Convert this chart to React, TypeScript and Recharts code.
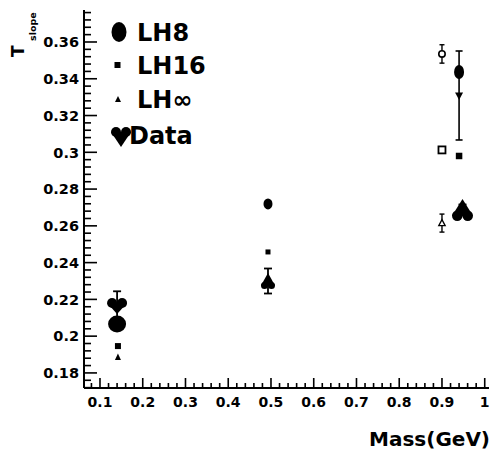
import React from 'react';
import { ScatterChart, Scatter, XAxis, YAxis, ErrorBar, Legend } from 'recharts';

const FONT = '"DejaVu Sans", sans-serif';

// ---- axis ticks ----
const xMajorTicks = [0.1, 0.2, 0.3, 0.4, 0.5, 0.6, 0.7, 0.8, 0.9, 1];
const yMajorTicks = [0.18, 0.2, 0.22, 0.24, 0.26, 0.28, 0.3, 0.32, 0.34, 0.36];
const X_DOMAIN: [number, number] = [0.0626, 1.01];
const Y_DOMAIN: [number, number] = [0.1718, 0.3774];

// ---- series values ----
const lh8Mass = [0.14, 0.493, 0.94];
const lh8Slope = [0.2066, 0.2719, 0.3437];
const lh8ErrLow = [0, 0, 0.037];
const lh8ErrHigh = [0, 0, 0.0114];

const lh16Mass = [0.142, 0.493, 0.94];
const lh16Slope = [0.1946, 0.2458, 0.298];

const lhInfMass = [0.142];
const lhInfSlope = [0.1887];

const dataMass = [0.14, 0.493, 0.948];
const dataSlope = [0.2164, 0.23, 0.2686];
const dataErr = [0.008, 0.0068, 0.003];

// extra (unlabelled) points near the proton mass
const downTriMass = [0.94];
const downTriSlope = [0.3306];
const openCircleMass = [0.9];
const openCircleSlope = [0.3535];
const openCircleErr = [0.005];
const openSquareMass = [0.9];
const openSquareSlope = [0.3013];
const openTriMass = [0.9];
const openTriSlope = [0.2615];
const openTriErr = [0.0049];

const legendNames = ['LH8', 'LH16', 'LH\u221e', 'Data'];

// ---- rows ----
const lh8Rows = lh8Mass.map((m, i) => ({ mass: m, slope: lh8Slope[i], err: [lh8ErrLow[i], lh8ErrHigh[i]] }));
const lh16Rows = lh16Mass.map((m, i) => ({ mass: m, slope: lh16Slope[i] }));
const lhInfRows = lhInfMass.map((m, i) => ({ mass: m, slope: lhInfSlope[i] }));
const dataRows = dataMass.map((m, i) => ({ mass: m, slope: dataSlope[i], err: dataErr[i] }));
const downTriRows = downTriMass.map((m, i) => ({ mass: m, slope: downTriSlope[i] }));
const openCircleRows = openCircleMass.map((m, i) => ({ mass: m, slope: openCircleSlope[i], err: openCircleErr[i] }));
const openSquareRows = openSquareMass.map((m, i) => ({ mass: m, slope: openSquareSlope[i] }));
const openTriRows = openTriMass.map((m, i) => ({ mass: m, slope: openTriSlope[i], err: openTriErr[i] }));

function allTicks(majors: number[], sub: number, lo: number, hi: number) {
  const step = (majors[1] - majors[0]) / sub;
  const out: number[] = [];
  const s = Math.ceil((lo - 1e-9) / step);
  const e = Math.floor((hi + 1e-9) / step);
  for (let k = s; k <= e; k++) out.push(Math.round(k * step * 1e6) / 1e6);
  return out;
}
const xTicks = allTicks(xMajorTicks, 5, X_DOMAIN[0], X_DOMAIN[1]);
const yTicks = allTicks(yMajorTicks, 5, Y_DOMAIN[0], Y_DOMAIN[1]);
const isMajor = (v: number, majors: number[]) => majors.some((m) => Math.abs(m - v) < 1e-6);

// tick-mark anchor points on the left and bottom frame edges
const yTickRows = yTicks.map((v) => ({ mass: X_DOMAIN[0], slope: v }));
const xTickRows = xTicks.map((v) => ({ mass: v, slope: Y_DOMAIN[0] }));

const Y_MINOR = 7;
const Y_MAJOR = 13;
const X_MINOR = 5;
const X_MAJOR = 10;

const yTickMark = (p: any) => {
  const len = isMajor(p.payload?.slope, yMajorTicks) ? Y_MAJOR : Y_MINOR;
  return <rect x={p.cx} y={p.cy - 0.8} width={len} height={1.6} fill="#000" />;
};
const xTickMark = (p: any) => {
  const len = isMajor(p.payload?.mass, xMajorTicks) ? X_MAJOR : X_MINOR;
  return <rect x={p.cx - 0.8} y={p.cy - len} width={1.6} height={len} fill="#000" />;
};

const YTick = (props: any) => (
  <text x={Number(props.x) - 5} y={Number(props.y)} dy="0.36em" textAnchor="end" fontFamily={FONT} fontWeight="bold" fontSize={14.5} fill="#000">
    {String(props.payload.value)}
  </text>
);

const XTick = (props: any) => (
  <text x={Number(props.x)} y={Number(props.y) + 19} textAnchor="middle" fontFamily={FONT} fontWeight="bold" fontSize={14} fill="#000">
    {String(props.payload.value)}
  </text>
);

// ---- marker shapes ----
const Heart = ({ cx, cy, w, h, up }: any) => {
  const r = w / 4;
  const s = up ? -1 : 1;
  const lobeY = cy - s * (h / 2 - r);
  const tipY = cy + s * (h / 2);
  return (
    <g fill="#000">
      <circle cx={cx - r} cy={lobeY} r={r} />
      <circle cx={cx + r} cy={lobeY} r={r} />
      <path d={`M${cx - 2 * r},${lobeY} L${cx + 2 * r},${lobeY} L${cx},${tipY} Z`} />
    </g>
  );
};

const lh8Sizes = [
  [9, 8.5],
  [4.5, 5.5],
  [5, 7],
];
const lh16Sizes = [6, 5, 6.5];
const dataSizes = [
  [20, 16, false],
  [14, 16, true],
  [21, 22, true],
];

const lh8Shape = (p: any) => {
  const i = Math.max(0, lh8Mass.indexOf(p.payload?.mass));
  const [rx, ry] = lh8Sizes[i];
  return <ellipse cx={p.cx} cy={p.cy} rx={rx} ry={ry} fill="#000" />;
};
const lh16Shape = (p: any) => {
  const i = Math.max(0, lh16Mass.indexOf(p.payload?.mass));
  const s = lh16Sizes[i];
  return <rect x={p.cx - s / 2} y={p.cy - s / 2} width={s} height={s} fill="#000" />;
};
const lhInfShape = (p: any) => (
  <path d={`M${p.cx},${p.cy - 3.5} L${p.cx + 3},${p.cy + 3} L${p.cx - 3},${p.cy + 3} Z`} fill="#000" />
);
const dataShape = (p: any) => {
  const i = Math.max(0, dataMass.indexOf(p.payload?.mass));
  const [w, h, up] = dataSizes[i];
  return <Heart cx={p.cx} cy={p.cy} w={w} h={h} up={up} />;
};
const downTriShape = (p: any) => (
  <path d={`M${p.cx - 4},${p.cy - 3.5} L${p.cx + 4},${p.cy - 3.5} L${p.cx},${p.cy + 4} Z`} fill="#000" />
);
const openCircleShape = (p: any) => (
  <circle cx={p.cx} cy={p.cy} r={3.2} fill="#fff" stroke="#000" strokeWidth={1.6} />
);
const openSquareShape = (p: any) => (
  <rect x={p.cx - 3.5} y={p.cy - 3.5} width={7} height={7} fill="#fff" stroke="#000" strokeWidth={1.8} />
);
const openTriShape = (p: any) => (
  <path d={`M${p.cx},${p.cy - 3.5} L${p.cx + 3.2},${p.cy + 2.5} L${p.cx - 3.2},${p.cy + 2.5} Z`} fill="#fff" stroke="#000" strokeWidth={1.3} />
);

const LegendContent = () => {
  const txt = { fontFamily: FONT, fontWeight: 'bold' as const, fontSize: 24, fill: '#000' };
  return (
    <svg width={240} height={160} style={{ overflow: 'visible' }}>
      <ellipse cx={119} cy={32} rx={7.5} ry={10} fill="#000" />
      <text x={137} y={41} {...txt}>{legendNames[0]}</text>
      <rect x={114.5} y={62} width={6} height={6} fill="#000" />
      <text x={137} y={74} {...txt}>{legendNames[1]}</text>
      <path d="M118,96 L121,102 L115,102 Z" fill="#000" />
      <text x={137} y={108} {...txt}>{legendNames[2]}</text>
      <Heart cx={121} cy={137} w={20} h={20} up={false} />
      <text x={129} y={144} {...txt}>{legendNames[3]}</text>
    </svg>
  );
};

const YTitle = () => (
  <g fill="#000" fontFamily={FONT} fontWeight="bold">
    <text transform="translate(24,57) rotate(-90)" fontSize={17}>T</text>
    <text transform="translate(36,41) rotate(-90)" fontSize={9.5}>slope</text>
  </g>
);

const XTitle = () => (
  <text x={490} y={446} textAnchor="end" fontFamily={FONT} fontWeight="bold" fontSize={20} fill="#000">
    Mass(GeV)
  </text>
);

const frameLine = { stroke: '#000', strokeWidth: 2 };

export default function App() {
  return (
    <div style={{ position: 'absolute', left: 0, top: 0, background: '#fff' }}>
      <ScatterChart width={495} height={452} margin={{ top: 10, right: 6, bottom: 34, left: 0 }}>
        <XAxis
          type="number"
          dataKey="mass"
          domain={X_DOMAIN}
          allowDataOverflow
          ticks={xMajorTicks}
          interval={0}
          tick={<XTick />}
          tickLine={false}
          tickSize={0}
          tickMargin={0}
          axisLine={frameLine}
          height={30}
          label={() => <XTitle />}
        />
        <XAxis
          xAxisId="top"
          orientation="top"
          type="number"
          domain={X_DOMAIN}
          allowDataOverflow
          height={0}
          tick={false}
          tickLine={false}
          axisLine={frameLine}
        />
        <YAxis
          type="number"
          dataKey="slope"
          domain={Y_DOMAIN}
          allowDataOverflow
          ticks={yMajorTicks}
          interval={0}
          tick={<YTick />}
          tickLine={false}
          tickSize={0}
          tickMargin={0}
          axisLine={frameLine}
          width={84}
          label={() => <YTitle />}
        />
        <YAxis
          yAxisId="right"
          orientation="right"
          type="number"
          domain={Y_DOMAIN}
          allowDataOverflow
          width={0}
          tick={false}
          tickLine={false}
          axisLine={frameLine}
        />
        <Legend
          layout="vertical"
          align="center"
          verticalAlign="middle"
          wrapperStyle={{ left: 0, top: 0, width: 240, height: 160 }}
          content={() => <LegendContent />}
        />
        {/* inward tick marks on the left and bottom frame */}
        <Scatter name="yTickMarks" data={yTickRows} shape={yTickMark} isAnimationActive={false} legendType="none" />
        <Scatter name="xTickMarks" data={xTickRows} shape={xTickMark} isAnimationActive={false} legendType="none" />
        <Scatter name="LH16" data={lh16Rows} shape={lh16Shape} isAnimationActive={false} legendType="none" />
        <Scatter name="LHinf" data={lhInfRows} shape={lhInfShape} isAnimationActive={false} legendType="none" />
        <Scatter name="openSquare" data={openSquareRows} shape={openSquareShape} isAnimationActive={false} legendType="none" />
        <Scatter name="openCircle" data={openCircleRows} shape={openCircleShape} isAnimationActive={false} legendType="none">
          <ErrorBar dataKey="err" direction="y" width={2.5} stroke="#000" strokeWidth={1.4} />
        </Scatter>
        <Scatter name="openTri" data={openTriRows} shape={openTriShape} isAnimationActive={false} legendType="none">
          <ErrorBar dataKey="err" direction="y" width={2.5} stroke="#000" strokeWidth={1.4} />
        </Scatter>
        <Scatter name="LH8" data={lh8Rows} shape={lh8Shape} isAnimationActive={false} legendType="none">
          <ErrorBar dataKey="err" direction="y" width={3.5} stroke="#000" strokeWidth={1.6} />
        </Scatter>
        <Scatter name="downTri" data={downTriRows} shape={downTriShape} isAnimationActive={false} legendType="none" />
        <Scatter name="Data" data={dataRows} shape={dataShape} isAnimationActive={false} legendType="none">
          <ErrorBar dataKey="err" direction="y" width={4} stroke="#000" strokeWidth={1.8} />
        </Scatter>
      </ScatterChart>
    </div>
  );
}
